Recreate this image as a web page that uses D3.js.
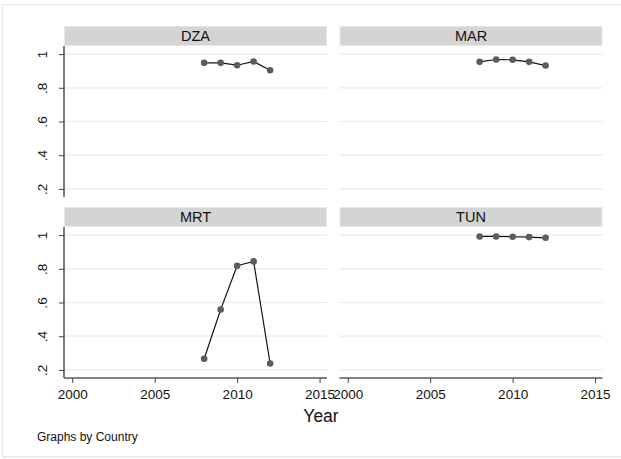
<!DOCTYPE html>
<html>
<head>
<meta charset="utf-8">
<script src="https://cdn.jsdelivr.net/npm/d3@7"></script>
<style>
  html, body { margin: 0; padding: 0; background: #ffffff; }
  svg { display: block; font-family: "Liberation Sans", Arial, sans-serif; }
</style>
</head>
<body>
<svg id="chart" width="621" height="459"></svg>
<script>
// Panel data: one small series per country, years 2008-2012
const countries = ["DZA", "MAR", "MRT", "TUN"];
const years = [2008, 2009, 2010, 2011, 2012];
const dzaValues = [0.948, 0.948, 0.934, 0.956, 0.904];
const marValues = [0.954, 0.968, 0.966, 0.954, 0.932];
const mrtValues = [0.266, 0.558, 0.818, 0.844, 0.238];
const tunValues = [0.992, 0.992, 0.990, 0.988, 0.984];
const xTicks = [2000, 2005, 2010, 2015];
const yTicks = [0.2, 0.4, 0.6, 0.8, 1];
const yTickLabels = [".2", ".4", ".6", ".8", "1"];
const xTitle = "Year";
const noteText = "Graphs by Country";

const seriesByCountry = {
  DZA: dzaValues, MAR: marValues, MRT: mrtValues, TUN: tunValues
};

const svg = d3.select("#chart");

// outer graph region frame (right edge runs off the canvas)
svg.append("rect")
  .attr("x", 2.5).attr("y", 4.5)
  .attr("width", 622).attr("height", 452.5)
  .attr("fill", "#ffffff")
  .attr("stroke", "#e9e9e9")
  .attr("stroke-width", 1.5);

// layout of the 2x2 grid
const colX = [64, 339.5];
const rowY = [46, 227];
const panelW = 263;
const panelH = 151;
const stripH = 19;

const x = d3.scaleLinear().domain([1999.5, 2015.45]).range([0, panelW]);
const y = d3.scaleLinear().domain([0.152, 1.048]).range([panelH, 0]);

const line = d3.line()
  .x(d => x(d.year))
  .y(d => y(d.value));

countries.forEach((c, i) => {
  const col = i % 2, row = Math.floor(i / 2);
  const g = svg.append("g")
    .attr("transform", `translate(${colX[col]},${rowY[row]})`);

  // strip header
  g.append("rect")
    .attr("x", 0.5).attr("y", -stripH - 0.5)
    .attr("width", panelW - 1).attr("height", stripH)
    .attr("fill", "#d4d4d4")
    .attr("stroke", "#e3eaee")
    .attr("stroke-width", 1);
  g.append("text")
    .attr("x", panelW / 2).attr("y", -stripH / 2 - 0.5)
    .attr("text-anchor", "middle")
    .attr("dominant-baseline", "central")
    .attr("font-size", 14.5)
    .attr("fill", "#111")
    .text(c);

  // horizontal gridlines
  g.append("g")
    .selectAll("line")
    .data(yTicks)
    .join("line")
    .attr("x1", 0).attr("x2", panelW)
    .attr("y1", d => y(d)).attr("y2", d => y(d))
    .attr("stroke", "#eaeaea")
    .attr("stroke-width", 1.2);

  // y axis on the left column
  if (col === 0) {
    const ya = g.append("g")
      .call(d3.axisLeft(y).tickValues(yTicks)
        .tickFormat((d, k) => yTickLabels[k])
        .tickSize(5).tickPadding(0));
    ya.select(".domain")
      .attr("d", `M0,0V${panelH}`)
      .attr("stroke", "#5a5a5a")
      .attr("stroke-width", 1.6);
    ya.selectAll(".tick line").attr("stroke", "#444").attr("stroke-width", 1);
    ya.selectAll(".tick text")
      .attr("font-size", 13.5)
      .attr("font-family", "Liberation Sans, Arial, sans-serif")
      .attr("fill", "#111")
      .attr("transform", "translate(-17.5,0) rotate(-90)")
      .attr("x", 0).attr("y", 0)
      .attr("dy", 0)
      .attr("text-anchor", "middle")
      .attr("dominant-baseline", "auto");
  }

  // x axis on the bottom row
  if (row === 1) {
    const xa = g.append("g")
      .attr("transform", `translate(0,${panelH})`)
      .call(d3.axisBottom(x).tickValues(xTicks)
        .tickFormat(d3.format("d"))
        .tickSize(5).tickPadding(6));
    xa.select(".domain")
      .attr("d", `M0,0H${panelW}`)
      .attr("stroke", "#5a5a5a")
      .attr("stroke-width", 1.6);
    xa.selectAll(".tick line").attr("stroke", "#444").attr("stroke-width", 1);
    xa.selectAll(".tick text")
      .attr("font-size", 13.5)
      .attr("font-family", "Liberation Sans, Arial, sans-serif")
      .attr("fill", "#111");
  }

  // connected series
  const pts = years.map((yr, k) => ({ year: yr, value: seriesByCountry[c][k] }));
  g.append("path")
    .datum(pts)
    .attr("d", line)
    .attr("fill", "none")
    .attr("stroke", "#111")
    .attr("stroke-width", 1.2);
  g.append("g")
    .selectAll("circle")
    .data(pts)
    .join("circle")
    .attr("cx", d => x(d.year))
    .attr("cy", d => y(d.value))
    .attr("r", 3.3)
    .attr("fill", "#5c5c5c");
});

// axis title and note
svg.append("text")
  .attr("x", 321).attr("y", 422)
  .attr("text-anchor", "middle")
  .attr("font-size", 17.5)
  .attr("fill", "#111")
  .text(xTitle);

svg.append("text")
  .attr("x", 37).attr("y", 441)
  .attr("font-size", 12)
  .attr("fill", "#111")
  .text(noteText);
</script>
</body>
</html>
